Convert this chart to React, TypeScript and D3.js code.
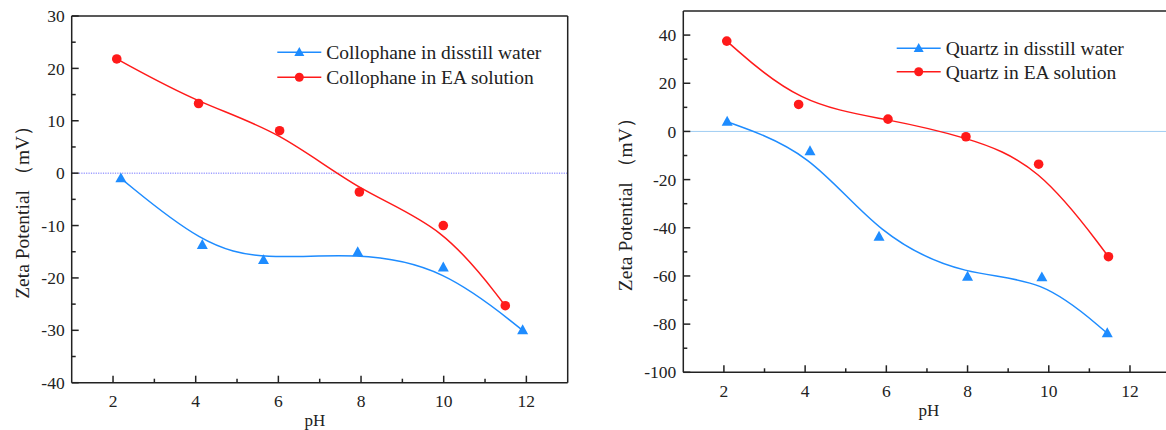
import React from "react";
import * as d3 from "d3";

// ---- Data ----
const leftWaterPH = [2.19, 4.16, 5.64, 7.92, 9.99, 11.91];
const leftWaterZeta = [-1.0, -13.7, -16.6, -15.1, -18.0, -30.0];
const leftEAPH = [2.09, 4.07, 6.03, 7.96, 9.99, 11.49];
const leftEAZeta = [21.8, 13.3, 8.1, -3.6, -10.0, -25.3];

const rightWaterPH = [2.08, 4.12, 5.82, 8.0, 9.83, 11.44];
const rightWaterZeta = [4.0, -8.2, -43.7, -60.3, -60.6, -83.8];
const rightEAPH = [2.07, 3.84, 6.04, 7.96, 9.75, 11.47];
const rightEAZeta = [37.5, 11.2, 5.1, -2.2, -13.6, -52.0];

const xTicks = [2, 4, 6, 8, 10, 12];
const xMinorTicks = [3, 5, 7, 9, 11];
const leftYTicks = [-40, -30, -20, -10, 0, 10, 20, 30];
const leftYMinor = [-35, -25, -15, -5, 5, 15, 25];
const rightYTicks = [-100, -80, -60, -40, -20, 0, 20, 40];
const rightYMinor = [-90, -70, -50, -30, -10, 10, 30];

const leftLegend = ["Collophane in disstill water", "Collophane in EA solution"];
const rightLegend = ["Quartz in disstill water", "Quartz in EA solution"];

const BLUE = "#1E8CFF";
const RED = "#FF1A1A";
const FONT = "Liberation Serif, DejaVu Serif, Times New Roman, serif";
const TEXT = "#222";

type PanelProps = {
  left: number; right: number; top: number; bottom: number;
  yDomain: [number, number];
  yTicks: number[]; yMinor: number[];
  waterX: number[]; waterY: number[];
  eaX: number[]; eaY: number[];
  legend: string[];
  legendX: number; legendY: number; legendGap: number;
  yTitleX: number; xTitleY: number; xTitleX: number;
  xLabelBaseline: number;
  zeroStyle: { stroke: string; dash?: string; width: number };
};

function tri(cx: number, cy: number, s: number) {
  const h = s * 0.9;
  return `M${cx},${cy - h * 0.6}L${cx + s / 2},${cy + h * 0.4}L${cx - s / 2},${cy + h * 0.4}Z`;
}

function Panel(p: PanelProps) {
  const x = d3.scaleLinear().domain([1, 13]).range([p.left, p.right]);
  const y = d3.scaleLinear().domain(p.yDomain).range([p.bottom, p.top]);
  const line = d3.line<[number, number]>().x((d) => x(d[0])).y((d) => y(d[1])).curve(d3.curveBasis);
  const water = p.waterX.map((v, i) => [v, p.waterY[i]] as [number, number]);
  const ea = p.eaX.map((v, i) => [v, p.eaY[i]] as [number, number]);
  const yMid = (p.top + p.bottom) / 2;
  const ts = { fontFamily: FONT };
  return (
    <g>
      <line x1={p.left} x2={p.right} y1={y(0)} y2={y(0)} stroke={p.zeroStyle.stroke}
        strokeWidth={p.zeroStyle.width} strokeDasharray={p.zeroStyle.dash} />
      <path d={line(water) || ""} fill="none" stroke={BLUE} strokeWidth={1.5} />
      <path d={line(ea) || ""} fill="none" stroke={RED} strokeWidth={1.5} />
      {water.map((d, i) => (
        <path key={"w" + i} d={tri(x(d[0]), y(d[1]), 11)} fill={BLUE} />
      ))}
      {ea.map((d, i) => (
        <circle key={"e" + i} cx={x(d[0])} cy={y(d[1])} r={4.8} fill={RED} />
      ))}
      <line x1={p.left} x2={p.right} y1={p.top} y2={p.top} stroke="#222" strokeWidth={1.5} />
      <line x1={p.left} x2={p.right} y1={p.bottom} y2={p.bottom} stroke="#222" strokeWidth={1.5} />
      <line x1={p.left} x2={p.left} y1={p.top} y2={p.bottom} stroke="#222" strokeWidth={1.5} />
      <line x1={p.right} x2={p.right} y1={p.top} y2={p.bottom} stroke="#222" strokeWidth={1.5} />
      {xTicks.map((t) => (
        <g key={"xt" + t}>
          <line x1={x(t)} x2={x(t)} y1={p.bottom} y2={p.bottom - 7} stroke="#222" strokeWidth={1.5} />
          <text x={x(t)} y={p.xLabelBaseline} textAnchor="middle" fontSize={17.5} fill={TEXT} style={ts}>{t}</text>
        </g>
      ))}
      {xMinorTicks.map((t) => (
        <line key={"xm" + t} x1={x(t)} x2={x(t)} y1={p.bottom} y2={p.bottom - 4} stroke="#222" strokeWidth={1.5} />
      ))}
      {p.yTicks.map((t) => (
        <g key={"yt" + t}>
          <line x1={p.left} x2={p.left + 7} y1={y(t)} y2={y(t)} stroke="#222" strokeWidth={1.5} />
          <text x={p.left - 7} y={y(t)} dy="0.35em" textAnchor="end" fontSize={17.5} fill={TEXT} style={ts}>{t}</text>
        </g>
      ))}
      {p.yMinor.map((t) => (
        <line key={"ym" + t} x1={p.left} x2={p.left + 4} y1={y(t)} y2={y(t)} stroke="#222" strokeWidth={1.5} />
      ))}
      <text x={p.xTitleX} y={p.xTitleY} textAnchor="middle" fontSize={17} fill={TEXT} style={ts}>pH</text>
      <text transform={`translate(${p.yTitleX},${yMid + 8}) rotate(-90)`} textAnchor="middle"
        dy="0.35em" fontSize={19.5} fill={TEXT} style={ts}>Zeta Potential （mV）</text>
      {p.legend.map((label, i) => {
        const ly = p.legendY + i * p.legendGap;
        const color = i === 0 ? BLUE : RED;
        return (
          <g key={"lg" + i}>
            <line x1={p.legendX} x2={p.legendX + 44} y1={ly} y2={ly} stroke={color} strokeWidth={1.5} />
            {i === 0 ? (
              <path d={tri(p.legendX + 22, ly, 10)} fill={color} />
            ) : (
              <circle cx={p.legendX + 22} cy={ly} r={4.5} fill={color} />
            )}
            <text x={p.legendX + 49} y={ly} dy="0.35em" fontSize={19.5} fill={TEXT} style={ts}>{label}</text>
          </g>
        );
      })}
    </g>
  );
}

export default function App() {
  return (
    <svg width={1166} height={430} style={{ position: "absolute", left: 0, top: 0, background: "#fff", fontFamily: FONT }}>
      <rect width={1166} height={430} fill="#fff" />
      <Panel
        left={71.7} right={567.7} top={16} bottom={382.7}
        yDomain={[-40, 30]} yTicks={leftYTicks} yMinor={leftYMinor}
        waterX={leftWaterPH} waterY={leftWaterZeta} eaX={leftEAPH} eaY={leftEAZeta}
        legend={leftLegend} legendX={277.3} legendY={52.3} legendGap={25}
        yTitleX={22} xTitleX={315} xTitleY={426} xLabelBaseline={407}
        zeroStyle={{ stroke: "#6f6fff", dash: "1.2,1.2", width: 1 }}
      />
      <Panel
        left={683.3} right={1170.6} top={11} bottom={372.3}
        yDomain={[-100, 50]} yTicks={rightYTicks} yMinor={rightYMinor}
        waterX={rightWaterPH} waterY={rightWaterZeta} eaX={rightEAPH} eaY={rightEAZeta}
        legend={rightLegend} legendX={896.7} legendY={48.3} legendGap={23.4}
        yTitleX={625} xTitleX={929} xTitleY={416} xLabelBaseline={397}
        zeroStyle={{ stroke: "#9fcdf3", width: 1 }}
      />
    </svg>
  );
}
